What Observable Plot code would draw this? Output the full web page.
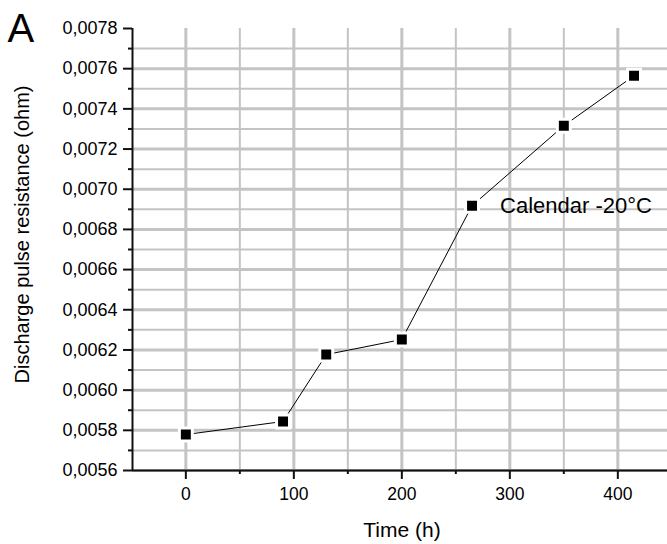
<!DOCTYPE html>
<html>
<head>
<meta charset="utf-8">
<script src="https://cdn.jsdelivr.net/npm/d3@7"></script>
<script src="https://cdn.jsdelivr.net/npm/@observablehq/plot@0.6"></script>
<style>
  html, body { margin: 0; padding: 0; background: #fff; }
  svg { display: block; }
</style>
</head>
<body>
<div id="chart"></div>
<script>
const time = [0, 90, 130, 200, 265, 350, 415];
const resistance = [0.005779, 0.005844, 0.006177, 0.006252, 0.006918, 0.007316, 0.007565];

const xDomain = [-49.4, 446];
const yDomain = [0.0056, 0.0078];
const xMajorTicks = [0, 100, 200, 300, 400];
const xMinorTicks = [50, 150, 250, 350];
const yMajorTicks = [0.0056, 0.0058, 0.0060, 0.0062, 0.0064, 0.0066, 0.0068, 0.0070, 0.0072, 0.0074, 0.0076, 0.0078];
const yMinorTicks = [0.0057, 0.0059, 0.0061, 0.0063, 0.0065, 0.0067, 0.0069, 0.0071, 0.0073, 0.0075, 0.0077];

const panelLabel = "A";
const yLabel = "Discharge pulse resistance (ohm)";
const xLabel = "Time (h)";
const seriesLabel = "Calendar -20°C";

const data = time.map((t, i) => ({t, r: resistance[i]}));
const fmtY = d => d.toFixed(4).replace(".", ",");
const grid = "#c4c4c4";
const font = "'Liberation Sans', Arial, Helvetica, sans-serif";

const chart = Plot.plot({
  width: 667,
  height: 544,
  marginLeft: 132,
  marginRight: 0,
  marginTop: 28,
  marginBottom: 74,
  style: {fontFamily: font, background: "#fff", color: "#000", overflow: "visible"},
  x: {domain: xDomain},
  y: {domain: yDomain},
  marks: [
    Plot.gridY(yMinorTicks, {stroke: grid, strokeOpacity: 1, strokeWidth: 2}),
    Plot.gridY(yMajorTicks.filter(v => v < yDomain[1]), {stroke: grid, strokeOpacity: 1, strokeWidth: 3}),
    Plot.gridX(xMinorTicks, {stroke: grid, strokeOpacity: 1, strokeWidth: 2}),
    Plot.gridX(xMajorTicks, {stroke: grid, strokeOpacity: 1, strokeWidth: 3}),
    Plot.ruleX([xDomain[0]], {stroke: "#111", strokeWidth: 2}),
    Plot.ruleY([yDomain[0]], {stroke: "#111", strokeWidth: 2}),
    Plot.axisY(yMajorTicks, {tickSize: 9, tickPadding: 6, strokeWidth: 2, stroke: "#111", fontSize: 18, tickFormat: fmtY, label: null}),
    Plot.axisY(yMinorTicks, {tickSize: 4, strokeWidth: 2, stroke: "#111", fill: "none", label: null}),
    Plot.axisX(xMajorTicks, {tickSize: 9, tickPadding: 8, strokeWidth: 2, stroke: "#111", fontSize: 17.5, tickFormat: d => String(d), label: null}),
    Plot.axisX(xMinorTicks, {tickSize: 4, strokeWidth: 2, stroke: "#111", fill: "none", label: null}),
    Plot.line(data, {x: "t", y: "r", stroke: "#000", strokeWidth: 1}),
    Plot.dot(data, {x: "t", y: "r", symbol: "square", r: 7.3, fill: "#000", stroke: "#fff", strokeWidth: 3}),
    Plot.text([data[4]], {x: "t", y: "r", text: () => seriesLabel, textAnchor: "start", lineAnchor: "middle", dx: 28, dy: 0, fontSize: 22, fill: "#000"}),
    Plot.text([panelLabel], {frameAnchor: "top-left", text: d => d, textAnchor: "start", lineAnchor: "bottom", dx: -125, dy: 13, fontSize: 40, fill: "#000"}),
    Plot.text([yLabel], {frameAnchor: "left", text: d => d, rotate: -90, textAnchor: "middle", lineAnchor: "bottom", dx: -104, dy: -15, fontSize: 20, fill: "#000"}),
    Plot.text([xLabel], {frameAnchor: "bottom", text: d => d, textAnchor: "middle", lineAnchor: "bottom", dx: 2, dy: 66, fontSize: 21, fill: "#000"})
  ]
});
document.getElementById("chart").append(chart);
</script>
</body>
</html>
